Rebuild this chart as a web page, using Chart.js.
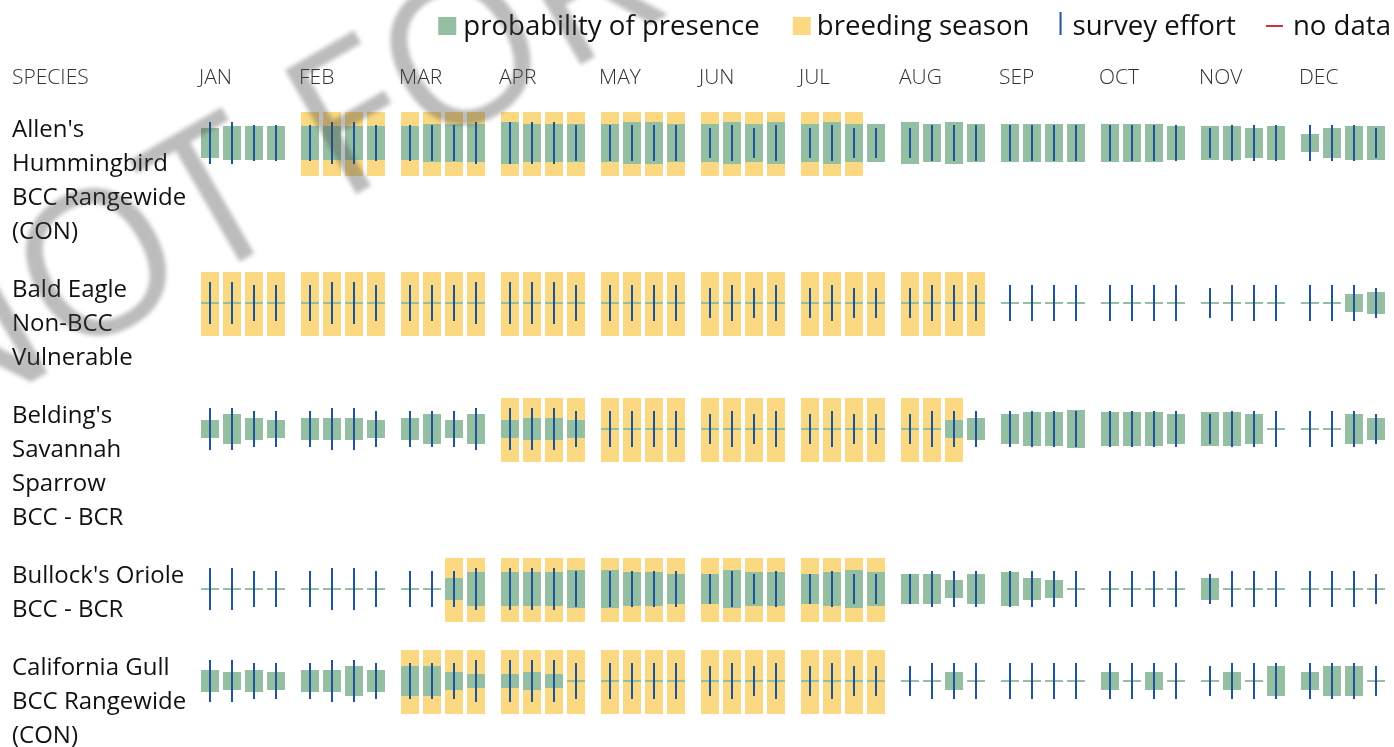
<!DOCTYPE html>
<html>
<head>
<meta charset="utf-8">
<script src="https://cdn.jsdelivr.net/npm/chart.js@4.4.1/dist/chart.umd.min.js"></script>
<style>
  html, body { margin: 0; padding: 0; background: #ffffff; }
  #wrap { width: 1394px; height: 747px; position: relative; overflow: hidden; }
</style>
</head>
<body>
<div id="wrap"><canvas id="chart" width="1394" height="747"></canvas></div>
<script>
// ---------------- DATA ----------------
const MONTHS = ['JAN','FEB','MAR','APR','MAY','JUN','JUL','AUG','SEP','OCT','NOV','DEC'];
const WEEKS = [1, 2, 3, 4];
const HEADER = 'SPECIES';
const SPECIES = [
  ["Allen's", "Hummingbird", "BCC Rangewide", "(CON)"],
  ["Bald Eagle", "Non-BCC", "Vulnerable"],
  ["Belding's", "Savannah", "Sparrow", "BCC - BCR"],
  ["Bullock's Oriole", "BCC - BCR"],
  ["California Gull", "BCC Rangewide", "(CON)"]
];
const LEGEND_LABELS = ['probability of presence', 'breeding season', 'survey effort', 'no data'];
const WATERMARK = 'NOT FOR CONSULTATION';

// probability of presence, level 0-10, one value per week (JAN wk1 ... DEC wk4)
const PROB_ALLENS   = [7,8,8,8, 8,8,8,8, 8,9,9,9, 10,9,9,9, 9,10,10,9, 9,10,9,10, 9,10,9,9, 10,9,10,9, 9,9,9,9, 9,9,9,8, 8,8,7,8, 4,7,8,8];
const PROB_BALD     = [0,0,0,0, 0,0,0,0, 0,0,0,0, 0,0,0,0, 0,0,0,0, 0,0,0,0, 0,0,0,0, 0,0,0,0, 0,0,0,0, 0,0,0,0, 0,0,0,0, 0,0,4,5];
const PROB_BELDING  = [4,7,5,4, 5,5,5,4, 5,7,4,7, 4,5,5,4, 0,0,0,0, 0,0,0,0, 0,0,0,0, 0,0,4,5, 7,8,8,9, 8,8,8,7, 8,8,7,0, 0,0,7,5];
const PROB_BULLOCK  = [0,0,0,0, 0,0,0,0, 0,0,5,8, 8,8,8,9, 9,8,8,7, 7,9,8,8, 7,8,9,8, 7,7,4,7, 8,5,4,0, 0,0,0,0, 5,0,0,0, 0,0,0,0];
const PROB_GULL     = [5,4,5,4, 5,5,7,5, 7,7,4,3, 3,4,3,0, 0,0,0,0, 0,0,0,0, 0,0,0,0, 0,0,4,0, 0,0,0,0, 4,0,4,0, 0,4,0,7, 4,7,7,0];

// breeding season flag per week
const BREED_ALLENS  = [0,0,0,0, 1,1,1,1, 1,1,1,1, 1,1,1,1, 1,1,1,1, 1,1,1,1, 1,1,1,0, 0,0,0,0, 0,0,0,0, 0,0,0,0, 0,0,0,0, 0,0,0,0];
const BREED_BALD    = [1,1,1,1, 1,1,1,1, 1,1,1,1, 1,1,1,1, 1,1,1,1, 1,1,1,1, 1,1,1,1, 1,1,1,1, 0,0,0,0, 0,0,0,0, 0,0,0,0, 0,0,0,0];
const BREED_BELDING = [0,0,0,0, 0,0,0,0, 0,0,0,0, 1,1,1,1, 1,1,1,1, 1,1,1,1, 1,1,1,1, 1,1,1,0, 0,0,0,0, 0,0,0,0, 0,0,0,0, 0,0,0,0];
const BREED_BULLOCK = [0,0,0,0, 0,0,0,0, 0,0,1,1, 1,1,1,1, 1,1,1,1, 1,1,1,1, 1,1,1,1, 0,0,0,0, 0,0,0,0, 0,0,0,0, 0,0,0,0, 0,0,0,0];
const BREED_GULL    = [0,0,0,0, 0,0,0,0, 1,1,1,1, 1,1,1,1, 1,1,1,1, 1,1,1,1, 1,1,1,1, 0,0,0,0, 0,0,0,0, 0,0,0,0, 0,0,0,0, 0,0,0,0];

// survey effort level per week (same for all species)
const SURVEY_EFFORT = [10,10,8.5,8.5, 8.5,10,10,8.5, 8.5,8.5,8.5,10, 10,10,10,8.5, 8.5,8.5,8.5,8.5, 7,8.5,7,8.5, 7,8.5,7,7, 7,8.5,8.5,8.5, 8.5,8.5,8.5,8.5, 8.5,8.5,8.5,8.5, 7,8.5,8.5,8.5, 8.5,8.5,8.5,7];

const PROBS  = [PROB_ALLENS, PROB_BALD, PROB_BELDING, PROB_BULLOCK, PROB_GULL];
const BREEDS = [BREED_ALLENS, BREED_BALD, BREED_BELDING, BREED_BULLOCK, BREED_GULL];

// ---------------- LAYOUT / STYLE ----------------
const W = 1394, H = 747;
const PAD_TOP = 50, XAXIS_H = 50;
const CHART_TOP = PAD_TOP + XAXIS_H;
const LABEL_LEFT = 12, YAXIS_W = 181;
const LINE_H = 34, ROW_GAP = 24, FIRST_ROW_TOP = 112;
const BAND_UP = 31, BAND_DOWN = 33;
const LEVEL_PX = 2;
const GREEN = '#95bfa3', YELLOW = '#fbd982', BLUE = '#1f5596', RED = '#d62d3f';
const FONT = '"Open Sans", "Noto Sans", sans-serif';
const XTICK_PAD = 9;

const rowTops = [];
SPECIES.reduce((top, lines) => { rowTops.push(top); return top + lines.length * LINE_H + ROW_GAP; }, FIRST_ROW_TOP);
const rowCenters = rowTops.map(t => t + BAND_UP);
const labelCenters = rowTops.map((t, i) => t + 18 + (SPECIES[i].length - 1) * LINE_H / 2);

const half = lvl => lvl * LEVEL_PX + 1;

// ---------------- DATASETS ----------------
const datasets = [];
SPECIES.forEach((sp, s) => {
  const c = rowCenters[s];
  WEEKS.forEach((wk, w) => {
    const at = m => m * 4 + w;
    datasets.push({
      label: LEGEND_LABELS[1], stack: 'w' + wk, order: 2, backgroundColor: YELLOW,
      data: MONTHS.map((_, m) => BREEDS[s][at(m)] ? [c - BAND_UP, c + BAND_DOWN] : null)
    });
    datasets.push({
      label: LEGEND_LABELS[0], stack: 'w' + wk, order: 1, backgroundColor: GREEN,
      data: MONTHS.map((_, m) => { const h = half(PROBS[s][at(m)]); return [c - h, c + h]; })
    });
    datasets.push({
      label: LEGEND_LABELS[2], stack: 'w' + wk, order: 0, backgroundColor: BLUE, maxBarThickness: 2,
      data: MONTHS.map((_, m) => { const h = half(SURVEY_EFFORT[at(m)]); return [c - h, c + h]; })
    });
  });
});

// ---------------- PLUGINS ----------------
const legendPlugin = {
  id: 'sketchLegend',
  afterDraw(chart) {
    const ctx = chart.ctx;
    const items = [
      { text: LEGEND_LABELS[0], icon: 'box',   color: GREEN,  iw: 18, gap: 7,  before: 0 },
      { text: LEGEND_LABELS[1], icon: 'box',   color: YELLOW, iw: 18, gap: 6,  before: 33 },
      { text: LEGEND_LABELS[2], icon: 'vline', color: BLUE,   iw: 2,  gap: 11, before: 30 },
      { text: LEGEND_LABELS[3], icon: 'hline', color: RED,    iw: 17, gap: 10, before: 30 }
    ];
    const y = 26;
    ctx.save();
    ctx.font = '27.6px ' + FONT;
    ctx.textBaseline = 'middle';
    ctx.textAlign = 'left';
    let x = 1391;
    for (let i = items.length - 1; i >= 0; i--) {
      const it = items[i];
      const tw = ctx.measureText(it.text).width;
      const tx = x - tw;
      ctx.fillStyle = '#111';
      ctx.fillText(it.text, tx, y + 1);
      const ir = tx - it.gap, il = ir - it.iw;
      ctx.fillStyle = it.color;
      if (it.icon === 'box') ctx.fillRect(il, y - 9, it.iw, 18);
      else if (it.icon === 'vline') ctx.fillRect(il, y - 14, 2, 23);
      else ctx.fillRect(il, y - 1, it.iw, 2);
      x = il - it.before;
    }
    const xs = chart.scales.x;
    ctx.font = '300 21px ' + FONT;
    ctx.fillStyle = '#333';
    ctx.fillText(HEADER, LABEL_LEFT, xs.bottom - XTICK_PAD - 21 * 1.2 / 2);
    ctx.restore();
  }
};

const watermarkPlugin = {
  id: 'watermark',
  afterDraw(chart) {
    const ctx = chart.ctx;
    ctx.save();
    ctx.translate(-66, 438);
    ctx.rotate(-Math.PI / 6);
    ctx.font = '200px ' + FONT;
    ctx.textBaseline = 'alphabetic';
    ctx.textAlign = 'left';
    ctx.fillStyle = 'rgba(70,70,70,0.36)';
    ctx.filter = 'blur(2px)';
    ctx.fillText(WATERMARK, 0, 0);
    ctx.restore();
  }
};

// ---------------- CHART ----------------
new Chart(document.getElementById('chart'), {
  type: 'bar',
  data: { labels: MONTHS, datasets },
  options: {
    responsive: false,
    animation: false,
    events: [],
    layout: { padding: { top: PAD_TOP, left: LABEL_LEFT, right: 1, bottom: 0 } },
    categoryPercentage: 0.88,
    barPercentage: 18 / 22,
    datasets: { bar: { borderWidth: 0, inflateAmount: 0, skipNull: false } },
    plugins: { legend: { display: false }, tooltip: { enabled: false } },
    scales: {
      x: {
        type: 'category', position: 'top', offset: true,
        grid: { display: false, drawTicks: false }, border: { display: false },
        ticks: {
          autoSkip: false, maxRotation: 0, minRotation: 0, align: 'start', labelOffset: -44, padding: XTICK_PAD,
          color: '#333', font: { family: FONT, size: 21, weight: 300 }
        },
        afterFit(scale) { scale.height = XAXIS_H; }
      },
      y: {
        type: 'linear', reverse: true, stacked: false, min: CHART_TOP, max: H,
        grid: { display: false, drawTicks: false }, border: { display: false },
        afterBuildTicks(scale) { scale.ticks = labelCenters.map(v => ({ value: v })); },
        ticks: {
          autoSkip: false, crossAlign: 'far', padding: 0, color: '#111',
          font: { family: FONT, size: 24, lineHeight: LINE_H / 24 },
          callback: (v, i) => SPECIES[i]
        },
        afterFit(scale) { scale.width = YAXIS_W; scale.paddingTop = 0; scale.paddingBottom = 0; }
      }
    }
  },
  plugins: [legendPlugin, watermarkPlugin]
});
</script>
</body>
</html>
